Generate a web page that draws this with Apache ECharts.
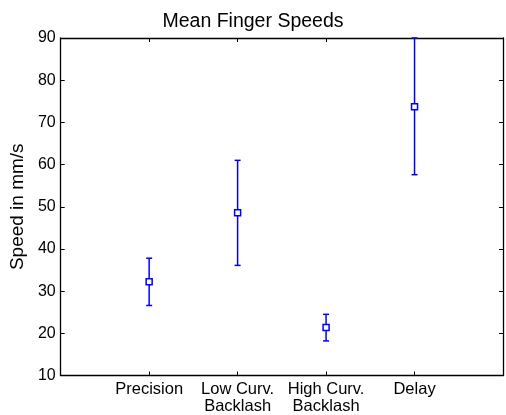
<!DOCTYPE html>
<html><head><meta charset="utf-8">
<script src="https://cdn.jsdelivr.net/npm/echarts@6/dist/echarts.min.js"></script>
<style>html,body{margin:0;padding:0;background:#fff}#c{width:506px;height:415px}</style>
</head><body><div id="c"></div>
<script>
const categories = ["Precision", "Low Curv.\nBacklash", "High Curv.\nBacklash", "Delay"];
const means = [32.2, 48.6, 21.4, 73.7];
const lowers = [26.6, 36.1, 18.2, 57.6];
const uppers = [37.8, 61.0, 24.5, 90.0];
const yTicks = [10, 20, 30, 40, 50, 60, 70, 80, 90];

const data = categories.map((c, i) => [i + 1, means[i], lowers[i], uppers[i]]);
const chart = echarts.init(document.getElementById('c'));
const font = 'Liberation Sans, Arial, sans-serif';
const axisLine = { show: true, onZero: false, lineStyle: { color: '#000', width: 1.3 } };
const tick = { show: true, inside: true, length: 4, lineStyle: { color: '#000', width: 1 } };
chart.setOption({
  animation: false,
  title: { text: 'Mean Finger Speeds', left: 'center', top: 7,
    textStyle: { fontFamily: font, fontSize: 19.5, fontWeight: 'normal', color: '#000' } },
  grid: { left: 60, right: 1, top: 38, bottom: 39.5 },
  xAxis: [
    { type: 'value', min: 0, max: 5, interval: 1, position: 'bottom',
      axisLine: axisLine, splitLine: { show: false }, axisTick: tick,
      axisLabel: { margin: 5, fontFamily: font, fontSize: 16.5, color: '#000', lineHeight: 17,
        formatter: v => (v >= 1 && v <= categories.length) ? categories[v - 1] : '' } },
    { type: 'value', min: 0, max: 5, interval: 1, position: 'top',
      axisLine: axisLine, splitLine: { show: false }, axisTick: tick,
      axisLabel: { show: false } }
  ],
  yAxis: [
    { type: 'value', min: yTicks[0], max: yTicks[yTicks.length - 1], interval: 10, position: 'left',
      name: 'Speed in mm/s', nameLocation: 'middle', nameGap: 30,
      nameTextStyle: { fontFamily: font, fontSize: 19, color: '#000' },
      axisLine: axisLine, splitLine: { show: false }, axisTick: tick,
      axisLabel: { margin: 5, fontFamily: font, fontSize: 16, color: '#000' } },
    { type: 'value', min: yTicks[0], max: yTicks[yTicks.length - 1], interval: 10, position: 'right',
      axisLine: axisLine, splitLine: { show: false }, axisTick: tick,
      axisLabel: { show: false } }
  ],
  series: [{
    type: 'custom',
    data: data,
    renderItem: function (params, api) {
      const x = api.value(0);
      const c = api.coord([x, api.value(1)]);
      const lo = api.coord([x, api.value(2)]);
      const hi = api.coord([x, api.value(3)]);
      const hw = 3, s = 3;
      const st = { stroke: '#0000ff', lineWidth: 1.5, fill: null };
      return { type: 'group', children: [
        { type: 'line', shape: { x1: lo[0], y1: lo[1], x2: hi[0], y2: hi[1] }, style: st },
        { type: 'line', shape: { x1: lo[0] - hw, y1: lo[1], x2: lo[0] + hw, y2: lo[1] }, style: st },
        { type: 'line', shape: { x1: hi[0] - hw, y1: hi[1], x2: hi[0] + hw, y2: hi[1] }, style: st },
        { type: 'rect', shape: { x: c[0] - s, y: c[1] - s, width: 2 * s, height: 2 * s },
          style: { stroke: '#0000ff', lineWidth: 1.5, fill: '#fff' } }
      ]};
    }
  }]
});
</script></body></html>
